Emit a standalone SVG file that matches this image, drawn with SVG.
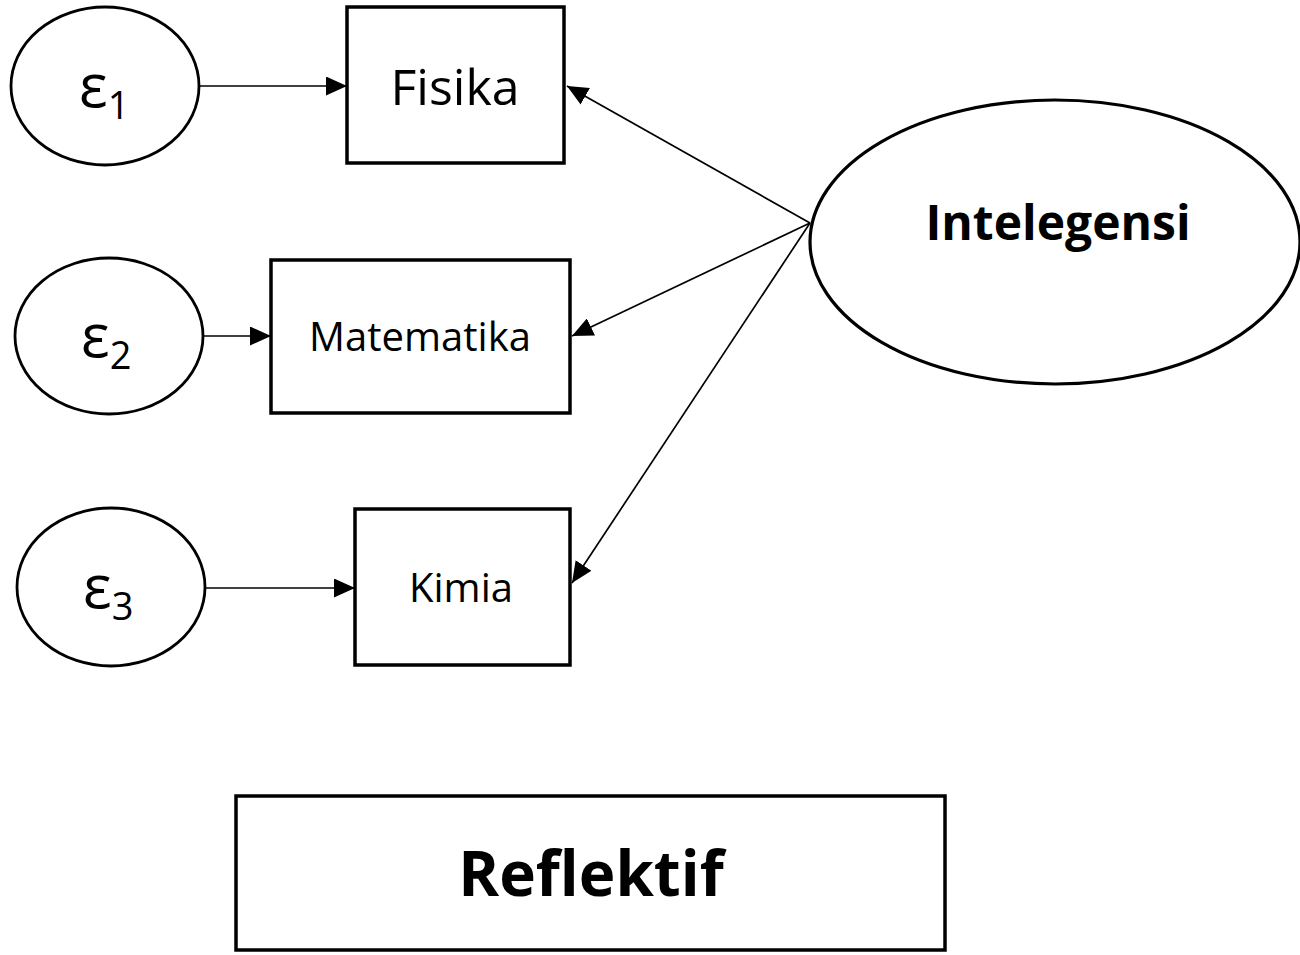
<svg xmlns="http://www.w3.org/2000/svg" width="1300" height="955" viewBox="0 0 1300 955">
  <style>
    .node { fill: #ffffff; stroke: #000000; }
    .err { stroke-width: 2.8; }
    .box { stroke-width: 3.5; }
    .lat { stroke-width: 3.2; }
    .lbl { font-family: "Open Sans", "Noto Sans", sans-serif; fill: #000000; text-anchor: middle; }
    .sym { font-family: "Open Sans", "Noto Sans", sans-serif; fill: #000000; font-size: 60px; }
    .sub { font-size: 38px; }
    .bold { font-weight: bold; }
    .edge { stroke: #000000; stroke-width: 1.7; fill: none; marker-end: url(#head); }
  </style>
  <defs>
    <marker id="head" viewBox="0 0 21 19" refX="21" refY="9.5" markerWidth="21" markerHeight="19" markerUnits="userSpaceOnUse" orient="auto">
      <path d="M0,0 L21,9.5 L0,19 Z" fill="#000000"/>
    </marker>
  </defs>

  <rect width="1300" height="955" fill="#ffffff"/>

  <!-- error terms -->
  <g id="e1">
    <ellipse class="node err" cx="105" cy="86" rx="94" ry="79"/>
    <text class="sym" x="79" y="107">ε<tspan class="sub" dy="12">1</tspan></text>
  </g>
  <g id="e2">
    <ellipse class="node err" cx="109" cy="336" rx="94" ry="78"/>
    <text class="sym" x="81" y="357">ε<tspan class="sub" dy="12">2</tspan></text>
  </g>
  <g id="e3">
    <ellipse class="node err" cx="111" cy="587" rx="94" ry="79"/>
    <text class="sym" x="83" y="608">ε<tspan class="sub" dy="12">3</tspan></text>
  </g>

  <!-- indicators -->
  <g id="fisika">
    <rect class="node box" x="347" y="7" width="217" height="156"/>
    <text class="lbl" x="455" y="105" font-size="50">Fisika</text>
  </g>
  <g id="matematika">
    <rect class="node box" x="271" y="260" width="299" height="153"/>
    <text class="lbl" x="420" y="351" font-size="40">Matematika</text>
  </g>
  <g id="kimia">
    <rect class="node box" x="355" y="509" width="215" height="156"/>
    <text class="lbl" x="461" y="602" font-size="40">Kimia</text>
  </g>

  <!-- latent construct -->
  <g id="intelegensi">
    <ellipse class="node lat" cx="1055" cy="242" rx="245" ry="142"/>
    <text class="lbl bold" x="1058" y="240" font-size="48">Intelegensi</text>
  </g>

  <!-- model type caption -->
  <g id="reflektif">
    <rect class="node box" x="236" y="796" width="709" height="154"/>
    <text class="lbl bold" x="591" y="896" font-size="62">Reflektif</text>
  </g>

  <!-- connectors -->
  <g id="connectors">
    <line class="edge" x1="200" y1="86" x2="347" y2="86"/>
    <line class="edge" x1="203" y1="336" x2="271" y2="336"/>
    <line class="edge" x1="205" y1="588" x2="355" y2="588"/>
    <line class="edge" x1="810" y1="223" x2="567" y2="86"/>
    <line class="edge" x1="810" y1="223" x2="572" y2="336"/>
    <line class="edge" x1="810" y1="223" x2="572" y2="583"/>
  </g>
</svg>
